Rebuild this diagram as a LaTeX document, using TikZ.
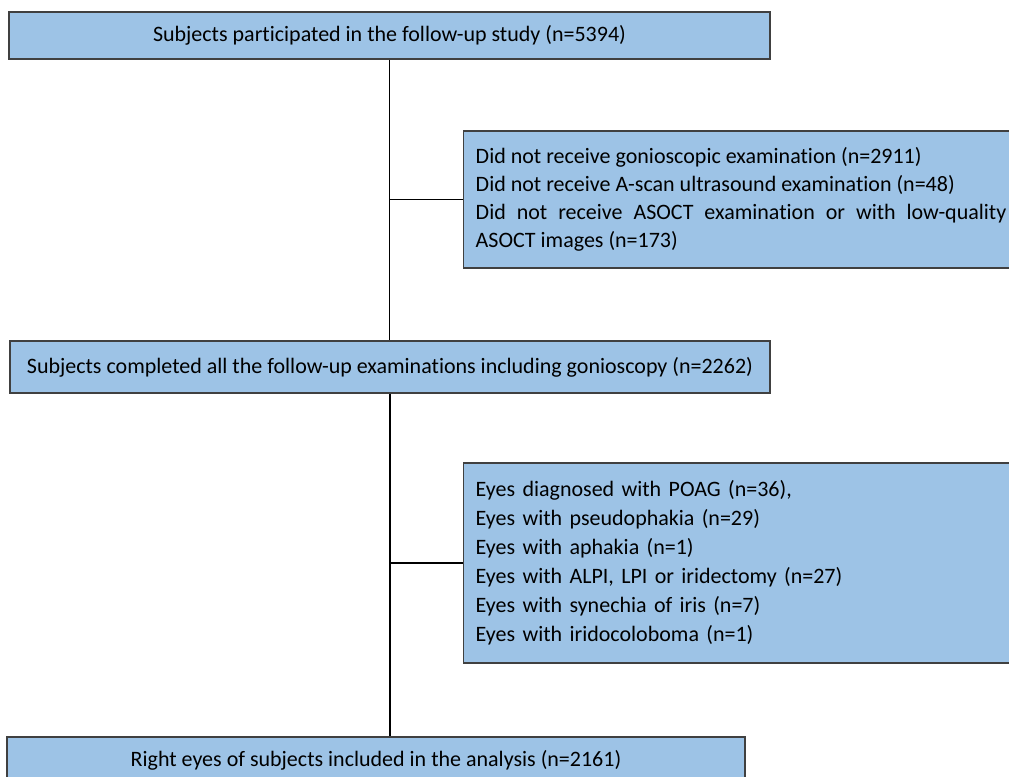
\documentclass[tikz,border=0pt]{standalone}
\usepackage{fontspec}
\setmainfont{Carlito}[Ligatures=NoCommon]
\usetikzlibrary{positioning}
\definecolor{boxblue}{HTML}{9DC3E6}
\definecolor{edgegray}{HTML}{404040}

\begin{document}
\begin{tikzpicture}[
    x=0.75pt, y=-0.75pt,
    flowbox/.style={
        draw=edgegray, fill=boxblue, line width=1.1pt,
        font=\fontsize{16.5}{21}\selectfont, inner sep=0pt
    },
    mainbox/.style={
        flowbox, minimum width=#1, align=center
    },
    exclbox/.style={
        flowbox, anchor=west, text width=398pt, inner xsep=9pt
    },
    link/.style={draw=black, line width=1pt}
]
\useasboundingbox (0,0) rectangle (1009,776);

% ===== MAIN FLOW =====
\node[mainbox=570.75pt, minimum height=35.25pt] (start) at (389.5,35.5)
    {Subjects participated in the follow-up study (n=5394)};

\node[mainbox=570pt, minimum height=39pt] (done) at (390,367)
    {Subjects completed all the follow-up examinations including gonioscopy (n=2262)};

\node[mainbox=553.5pt, minimum height=34.5pt] (final) at (376,760)
    {Right eyes of subjects included in the analysis (n=2161)};

% ===== EXCLUSIONS =====
\node[exclbox, align=justify, minimum height=102.75pt] (excl1) at (463,199.5) {%
    Did not receive gonioscopic examination (n=2911)\\
    Did not receive A-scan ultrasound examination (n=48)\\
    Did not receive ASOCT examination or with low-quality\linebreak
    ASOCT images (n=173)%
};

\node[exclbox, align=left, font=\fontsize{16.5}{21.75}\selectfont,
      minimum height=150pt] (excl2) at (463,563) {%
    Eyes diagnosed with POAG (n=36),\\
    Eyes with pseudophakia (n=29)\\
    Eyes with aphakia (n=1)\\
    Eyes with ALPI, LPI or iridectomy (n=27)\\
    Eyes with synechia of iris (n=7)\\
    Eyes with iridocoloboma (n=1)%
};

% Connectors
\draw[link] (start.south) -- (start.south |- done.north);
\draw[link] (excl1.west -| start.south) -- (excl1.west);
\draw[link] (done.south) -- (done.south |- final.north);
\draw[link] (excl2.west -| done.south) -- (excl2.west);

\end{tikzpicture}
\end{document}
